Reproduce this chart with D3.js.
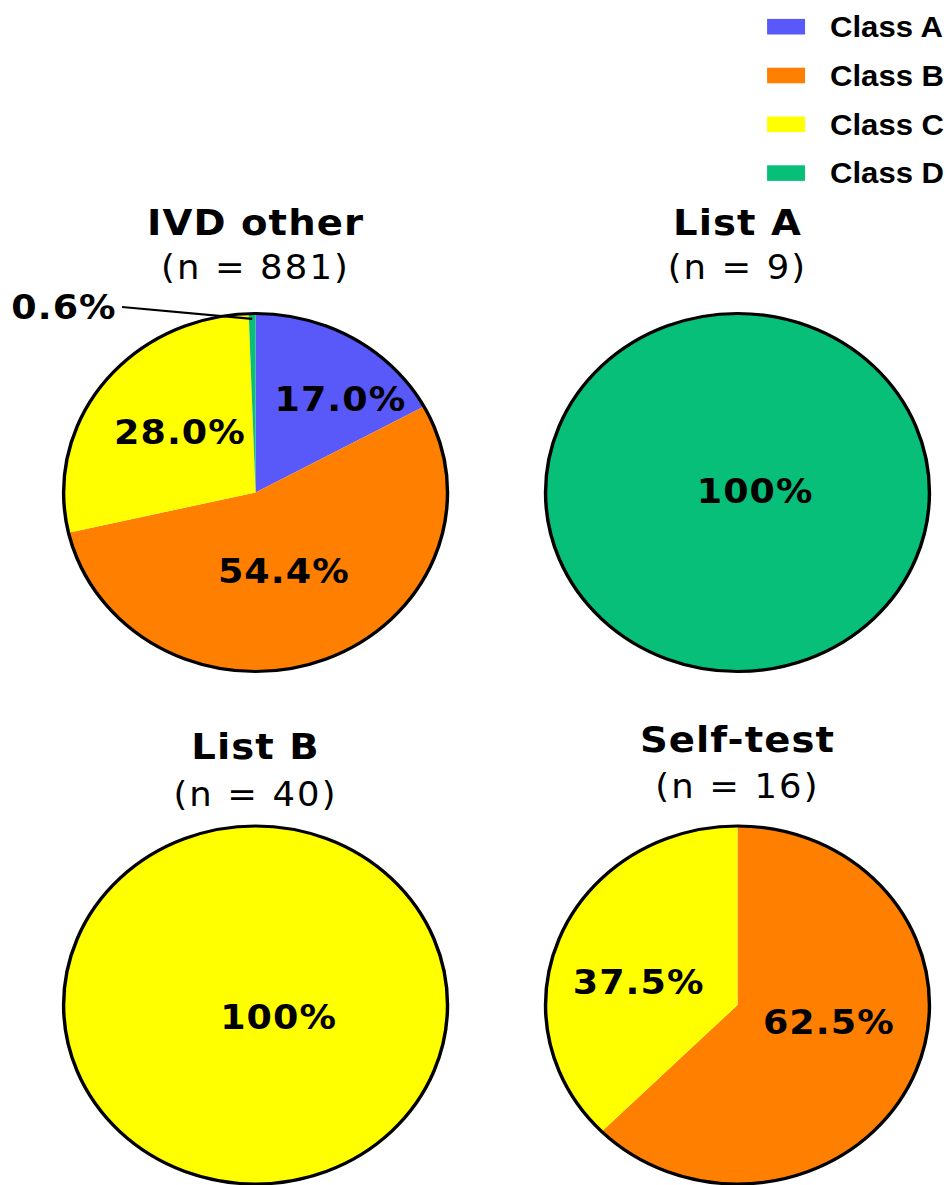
<!DOCTYPE html>
<html>
<head>
<meta charset="utf-8">
<script src="https://d3js.org/d3.v7.min.js"></script>
<style>
  body { margin: 0; background: #fff; }
  svg { display: block; }
</style>
</head>
<body>
<div id="chart"></div>
<script>
// data
const classes = ["Class A", "Class B", "Class C", "Class D"];
const panelTitles = ["IVD other", "List A", "List B", "Self-test"];
const ivdOther = [150, 479, 247, 5];
const listA = [0, 0, 0, 9];
const listB = [0, 0, 40, 0];
const selfTest = [0, 10, 6, 0];
const panelValues = [ivdOther, listA, listB, selfTest];

const colors = ["#5959F9", "#FF8000", "#FFFF00", "#07BF78"];

const width = 947;
const height = 1185;
// the original picture is stretched a little horizontally
const sx = 1.0724;
const R = 179;

// layout (unstretched coordinates)
const layout = [
  { cx: 238.3, cy: 492.5, titleY: 235, subY: 279 },
  { cx: 687.7, cy: 492.5, titleY: 235, subY: 279 },
  { cx: 238.3, cy: 1005, titleY: 759, subY: 806 },
  { cx: 687.7, cy: 1005, titleY: 752, subY: 798 },
];
// small manual nudges for labels, as in the original
const nudges = {
  "0-0": [33, -17],
  "0-1": [-6, -5],
  "0-2": [0, -6],
  "1-3": [16, -2],
  "2-2": [21, 12],
  "3-1": [2, -17],
  "3-2": [-10, 11],
};

const svg = d3
  .select("#chart")
  .append("svg")
  .attr("width", width)
  .attr("height", height);

const g = svg.append("g").attr("transform", `scale(${sx},1)`);

const pie = d3.pie().sort(null).value((d) => d.value);
const arc = d3.arc().innerRadius(0).outerRadius(R);
const labelArc = d3.arc().innerRadius(R * 0.5).outerRadius(R * 0.5);

function fmtPct(v, total) {
  const p = (v / total) * 100;
  return p === 100 ? "100%" : p.toFixed(1) + "%";
}

panelValues.forEach((values, pi) => {
  const L = layout[pi];
  const total = d3.sum(values);
  const rows = values.map((v, i) => ({ value: v, cls: i }));
  const arcs = pie(rows).filter((d) => d.data.value > 0);

  const panel = g.append("g").attr("transform", `translate(${L.cx},${L.cy})`);

  panel
    .selectAll("path.slice")
    .data(arcs)
    .enter()
    .append("path")
    .attr("class", "slice")
    .attr("d", arc)
    .attr("fill", (d) => colors[d.data.cls]);

  panel
    .append("circle")
    .attr("r", R)
    .attr("fill", "none")
    .attr("stroke", "#000")
    .attr("stroke-width", 3.2);

  // titles
  g.append("text")
    .attr("x", L.cx)
    .attr("y", L.titleY)
    .attr("text-anchor", "middle")
    .attr("font-family", "DejaVu Sans")
    .attr("font-weight", "bold")
    .attr("font-size", 36)
    .attr("letter-spacing", 1)
    .text(panelTitles[pi]);

  g.append("text")
    .attr("x", L.cx)
    .attr("y", L.subY)
    .attr("text-anchor", "middle")
    .attr("font-family", "DejaVu Sans")
    .attr("font-size", 33)
    .attr("letter-spacing", 2)
    .text(`(n = ${total})`);

  // slice labels
  arcs.forEach((d) => {
    const pct = d.data.value / total;
    const txt = fmtPct(d.data.value, total);
    if (pct < 0.03) {
      // callout label with leader line
      const mid = (d.startAngle + d.endAngle) / 2;
      const ex = Math.sin(mid) * R * 0.97;
      const ey = -Math.cos(mid) * R * 0.97;
      const lx = -124.5;
      const ly = -185.5;
      panel
        .append("line")
        .attr("x1", lx)
        .attr("y1", ly)
        .attr("x2", ex)
        .attr("y2", ey)
        .attr("stroke", "#000")
        .attr("stroke-width", 2.2);
      panel
        .append("text")
        .attr("x", lx - 5)
        .attr("y", ly + 12)
        .attr("text-anchor", "end")
        .attr("font-family", "DejaVu Sans")
        .attr("font-weight", "bold")
        .attr("font-size", 34)
        .attr("letter-spacing", 1)
        .text(txt);
      return;
    }
    let [x, y] = arcs.length === 1 ? [0, 0] : labelArc.centroid(d);
    const n = nudges[pi + "-" + d.data.cls];
    if (n) {
      x += n[0];
      y += n[1];
    }
    panel
      .append("text")
      .attr("x", x + 0.5)
      .attr("y", y + 12)
      .attr("text-anchor", "middle")
      .attr("font-family", "DejaVu Sans")
      .attr("font-weight", "bold")
      .attr("font-size", 34)
      .attr("letter-spacing", 1)
      .text(txt);
  });
});

// legend
const legend = g
  .append("g")
  .selectAll("g")
  .data(classes)
  .enter()
  .append("g")
  .attr("transform", (d, i) => `translate(715.3,${26.7 + i * 48.8})`);

legend
  .append("rect")
  .attr("x", 0)
  .attr("y", -7.8)
  .attr("width", 35.4)
  .attr("height", 15.6)
  .attr("fill", (d, i) => colors[i]);

legend
  .append("text")
  .attr("x", 58.7)
  .attr("y", 10.3)
  .attr("font-family", "Liberation Sans")
  .attr("font-weight", "bold")
  .attr("font-size", 29)
  .text((d) => d);
</script>
</body>
</html>
